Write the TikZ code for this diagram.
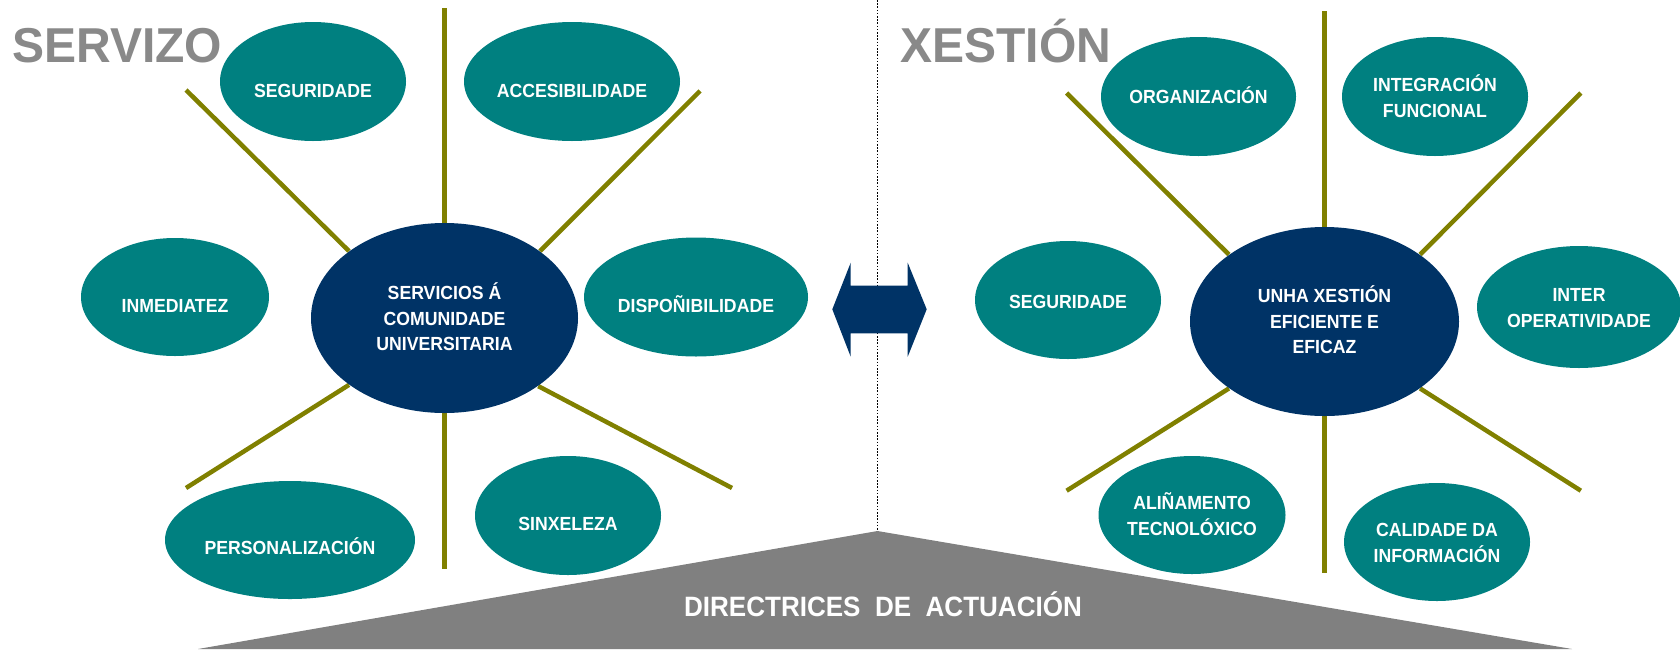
\documentclass[tikz,border=0pt]{standalone}
\usepackage{fontspec}
\setmainfont{Liberation Sans}[FakeStretch=0.93]
\newfontfamily\headfont{Liberation Sans}[FakeStretch=0.98]
\usetikzlibrary{shapes.geometric}
\definecolor{teal0}{HTML}{008080}
\definecolor{navy0}{HTML}{003366}
\definecolor{olive0}{HTML}{808000}
\definecolor{grey0}{HTML}{808080}
\definecolor{title0}{HTML}{898989}
\pgfdeclarelayer{background}
\pgfsetlayers{background,main}
\begin{document}
\begin{tikzpicture}[x=0.5pt,y=-0.5pt,
  leaf/.style={ellipse, fill=teal0, inner sep=0pt},
  hub/.style={ellipse, fill=navy0, inner sep=0pt},
  lbl/.style={text=white, font=\bfseries\fontsize{9.5}{12.7}\selectfont, align=center, inner sep=0pt},
  spoke/.style={draw=olive0, line width=2.25pt},
  titletext/.style={text=title0, font=\headfont\bfseries\fontsize{24.5}{28}\selectfont, inner sep=0pt, anchor=base west},
  bandtext/.style={text=white, font=\bfseries\fontsize{14}{16}\selectfont, inner sep=0pt},
  divider/.style={draw=black, line width=0.8pt, dash pattern=on 0.8pt off 0.8pt}]

\useasboundingbox (0,0) rectangle (1680,649);

% base band and divider
\fill[grey0] (198,649) -- (877.5,531) -- (1572,649) -- cycle;
\coordinate (dtop) at (877.5,0);
\coordinate (dbot) at (877.5,531);
\draw[divider] (dtop) -- (dbot);
\node[bandtext] (dir) at (883,604) {DIRECTRICES~~DE~~ACTUACIÓN};

% double arrow
\fill[navy0] (832.3,309.3) -- (850.7,262.7) -- (850.7,285.7) -- (907.7,285.7) -- (907.7,262.7)
  -- (926.7,309.3) -- (907.7,356.7) -- (907.7,333.3) -- (850.7,333.3) -- (850.7,356.7) -- cycle;

% titles
\node[titletext] (servizo) at (12,62) {SERVIZO};
\node[titletext] (xestion) at (900,62) {XESTIÓN};

% ---------- left group ----------
\node[hub, minimum width=133.5pt, minimum height=95pt] (hubL) at (444.5,318) {};
\node[leaf, minimum width=93pt, minimum height=59.5pt] (segL) at (313,81.5) {};
\node[leaf, minimum width=108pt, minimum height=59.5pt] (acc) at (572,81.5) {};
\node[leaf, minimum width=94pt, minimum height=59pt] (inm) at (175,297) {};
\node[leaf, minimum width=112pt, minimum height=59.5pt] (dis) at (696,297) {};
\node[leaf, minimum width=125pt, minimum height=59pt] (per) at (290,540) {};
\node[leaf, minimum width=93pt, minimum height=59.5pt] (sin) at (568,515.5) {};

\coordinate (L1) at (186,90);
\coordinate (L2) at (444.5,8);
\coordinate (L3) at (700,91);
\coordinate (L4) at (186,488);
\coordinate (L5) at (444.5,569);
\coordinate (L6) at (732,488);
\begin{pgfonlayer}{background}
\draw[spoke] (hubL.145) -- (L1);
\draw[spoke] (hubL.90) -- (L2);
\draw[spoke] (hubL.35) -- (L3);
\draw[spoke] (hubL.215) -- (L4);
\draw[spoke] (hubL.270) -- (L5);
\draw[spoke] (hubL.324) -- (L6);
\end{pgfonlayer}

\node[lbl] (tSegL) at (313,90.7) {SEGURIDADE};
\node[lbl] (tAcc) at (572,90.7) {ACCESIBILIDADE};
\node[lbl] (tInm) at (175,306) {INMEDIATEZ};
\node[lbl] (tDis) at (696,304) {DISPOÑIBILIDADE};
\node[lbl] (tHubL) at (444.5,317) {SERVICIOS Á\\COMUNIDADE\\UNIVERSITARIA};
\node[lbl] (tPer) at (290,546) {PERSONALIZACIÓN};
\node[lbl] (tSin) at (568,524) {SINXELEZA};

% ---------- right group ----------
\node[hub, minimum width=134.5pt, minimum height=94.5pt] (hubR) at (1324.5,321.5) {};
\node[leaf, minimum width=97.5pt, minimum height=59.5pt] (org) at (1198.5,96.5) {};
\node[leaf, minimum width=93pt, minimum height=59.5pt] (int) at (1435,96.5) {};
\node[leaf, minimum width=93pt, minimum height=59pt] (segR) at (1068,300) {};
\node[leaf, minimum width=102pt, minimum height=61pt] (iop) at (1579,307) {};
\node[leaf, minimum width=93.5pt, minimum height=59pt] (ali) at (1192,515) {};
\node[leaf, minimum width=93pt, minimum height=59pt] (cal) at (1437,542) {};

\coordinate (R1) at (1066.6,93);
\coordinate (R2) at (1324.5,11);
\coordinate (R3) at (1580.8,93);
\coordinate (R4) at (1066.6,490.7);
\coordinate (R5) at (1324.5,572.7);
\coordinate (R6) at (1580.8,490.7);
\begin{pgfonlayer}{background}
\draw[spoke] (hubR.145) -- (R1);
\draw[spoke] (hubR.90) -- (R2);
\draw[spoke] (hubR.35) -- (R3);
\draw[spoke] (hubR.215) -- (R4);
\draw[spoke] (hubR.270) -- (R5);
\draw[spoke] (hubR.325) -- (R6);
\end{pgfonlayer}

\node[lbl] (tOrg) at (1198.5,95) {ORGANIZACIÓN};
\node[lbl] (tInt) at (1435,96) {INTEGRACIÓN\\FUNCIONAL};
\node[lbl] (tSegR) at (1068,301.7) {SEGURIDADE};
\node[lbl] (tHubR) at (1324.5,320) {UNHA XESTIÓN\\EFICIENTE E\\EFICAZ};
\node[lbl] (tIop) at (1579,308) {INTER\\OPERATIVIDADE};
\node[lbl] (tAli) at (1192,514) {ALIÑAMENTO\\TECNOLÓXICO};
\node[lbl] (tCal) at (1437,543) {CALIDADE DA\\INFORMACIÓN};
\end{tikzpicture}
\end{document}
